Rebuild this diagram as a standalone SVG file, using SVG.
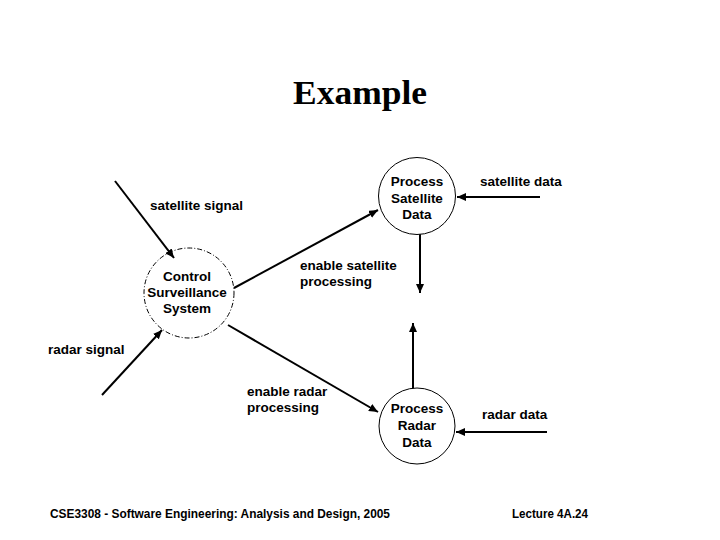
<svg xmlns="http://www.w3.org/2000/svg" width="720" height="540" viewBox="0 0 720 540">
<defs>
<marker id="ah" markerUnits="userSpaceOnUse" markerWidth="9" markerHeight="8" refX="9" refY="4" orient="auto">
<path d="M0,0 L9,4 L0,8 z" fill="#000"/>
</marker>
<style>
.lbl{font-family:"Liberation Sans",Arial,sans-serif;font-size:13.5px;font-weight:bold;fill:#000}
.ctr{text-anchor:middle}
.flow{stroke:#000;stroke-width:2;fill:none;marker-end:url(#ah)}
.proc{fill:#fff;stroke:#000;stroke-width:1}
.foot{font-size:12px}
</style>
</defs>
<rect width="720" height="540" fill="#fff"/>
<text x="360" y="104" text-anchor="middle" font-family="'Liberation Serif','Times New Roman',serif" font-size="34" font-weight="bold" textLength="134" lengthAdjust="spacingAndGlyphs">Example</text>

<g id="connectors">
<line class="flow" x1="115" y1="181" x2="174" y2="258"/>
<line class="flow" x1="102" y1="395" x2="162" y2="330"/>
<line class="flow" x1="234" y1="288" x2="378" y2="210"/>
<line class="flow" x1="228" y1="325" x2="378" y2="412"/>
<line class="flow" x1="420" y1="234" x2="420" y2="293"/>
<line class="flow" x1="413" y1="389" x2="413" y2="323"/>
<line class="flow" x1="540" y1="197" x2="457" y2="197"/>
<line class="flow" x1="547" y1="432" x2="456" y2="432"/>
</g>

<g id="control">
<circle cx="189" cy="293" r="45" fill="none" stroke="#000" stroke-width="1" stroke-dasharray="5 2 1 2"/>
<text class="lbl ctr" x="187" y="281">Control</text>
<text class="lbl ctr" x="187" y="297">Surveillance</text>
<text class="lbl ctr" x="187" y="313">System</text>
</g>

<g id="proc-sat">
<circle class="proc" cx="417" cy="196" r="38.5"/>
<text class="lbl ctr" x="417" y="186">Process</text>
<text class="lbl ctr" x="417" y="203">Satellite</text>
<text class="lbl ctr" x="417" y="219">Data</text>
</g>

<g id="proc-radar">
<circle class="proc" cx="417" cy="426" r="38"/>
<text class="lbl ctr" x="417" y="413">Process</text>
<text class="lbl ctr" x="417" y="430">Radar</text>
<text class="lbl ctr" x="417" y="447">Data</text>
</g>

<g id="labels">
<text class="lbl" x="150" y="210">satellite signal</text>
<text class="lbl" x="48" y="354">radar signal</text>
<text class="lbl" x="300" y="270">enable satellite</text>
<text class="lbl" x="300" y="286">processing</text>
<text class="lbl" x="247" y="396">enable radar</text>
<text class="lbl" x="247" y="412">processing</text>
<text class="lbl" x="480" y="186">satellite data</text>
<text class="lbl" x="482" y="419">radar data</text>
</g>

<g id="footer">
<text class="lbl foot" x="50" y="518" textLength="340" lengthAdjust="spacingAndGlyphs">CSE3308 - Software Engineering: Analysis and Design, 2005</text>
<text class="lbl foot" x="512" y="518" textLength="76" lengthAdjust="spacingAndGlyphs">Lecture 4A.24</text>
</g>
</svg>
